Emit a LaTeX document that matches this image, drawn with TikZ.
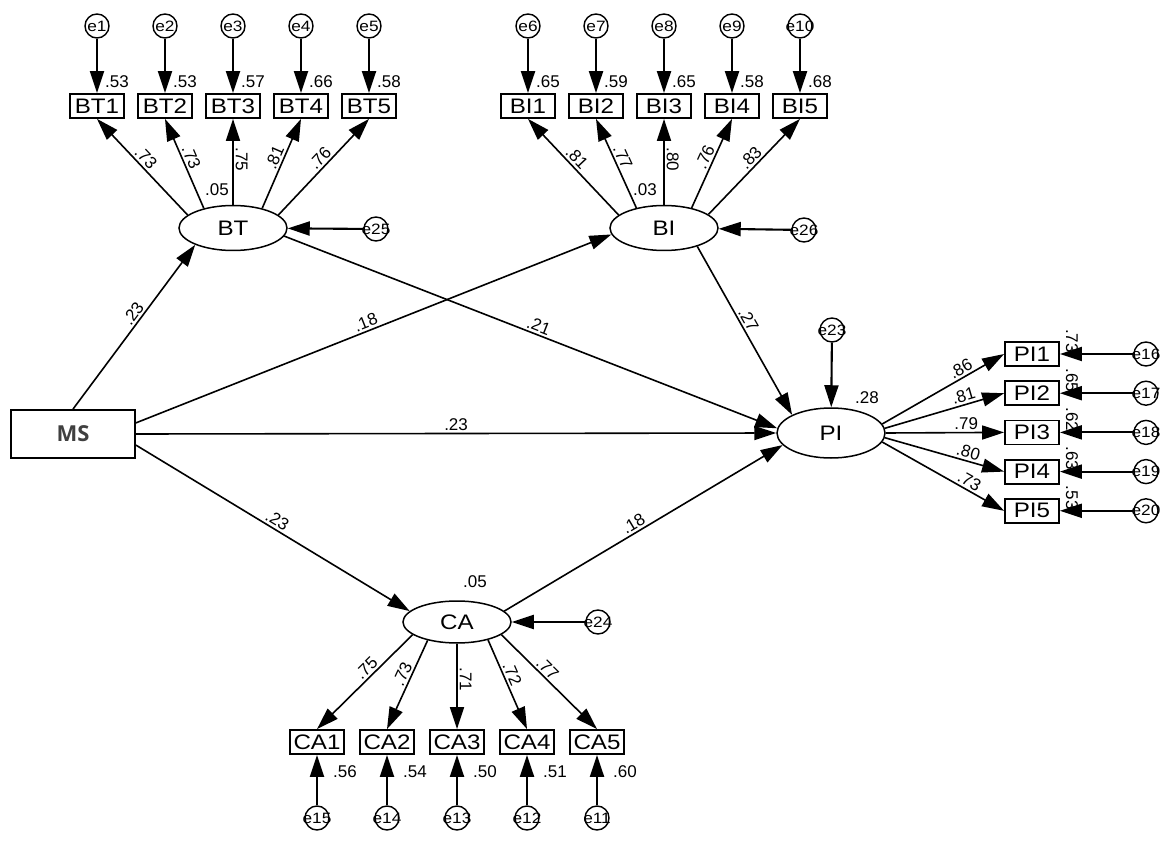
\documentclass[tikz,border=0pt]{standalone}
\usepackage{fontspec}
\setmainfont{Liberation Sans}
\newfontfamily\amos[FakeStretch=1.15]{Liberation Sans}
\newfontfamily\msfont{Open Sans}
\usetikzlibrary{arrows.meta,shapes.geometric}
\begin{document}
\begin{tikzpicture}[x=1pt, y=-1pt, >={Triangle[length=22pt, width=14pt]},
    obs/.style={draw, line width=1.8pt, minimum width=54pt, minimum height=24pt, inner sep=0pt, font=\amos\fontsize{21}{21}\selectfont},
    lat/.style={draw, ellipse, line width=1.5pt, minimum width=108pt, minimum height=45pt, inner sep=0pt, font=\amos\fontsize{21}{21}\selectfont},
    err/.style={draw, circle, line width=1.4pt, minimum size=24pt, inner sep=0pt},
    etxt/.style={font=\amos\fontsize{15}{15}\selectfont, inner sep=0pt},
    num/.style={font=\fontsize{17}{17}\selectfont, inner sep=2pt},
    lnk/.style={line width=1.6pt},
    elnk/.style={line width=2.1pt}]
\useasboundingbox (0,0) rectangle (1168,845);

\node[obs, minimum width=124pt, minimum height=48pt, text=black!75, font=\msfont\bfseries\fontsize{22}{22}\selectfont] (MS) at (73,434) {MS};
\node[lat] (BT) at (233,228) {BT};
\node[lat] (BI) at (664,228) {BI};
\node[lat, minimum height=50pt] (PI) at (831,433) {PI};
\node[lat, minimum height=42pt] (CA) at (457,622) {CA};

\foreach \i/\k/\ang/\wt/\rsq in {1/1/164/.73/.53, 2/2/146/.73/.53, 3/3/90/.75/.57, 4/4/34/.81/.66, 5/5/16/.76/.58}
{
    \node[obs] (BT\i) at ({97+68*(\i-1)},106) {BT\i};
    \node[err, label={[etxt]center:e\k}] (e\k) at ({97+68*(\i-1)},26) {};
    \draw[->, elnk] (e\k) -- (BT\i);
    \node[num] at ([shift={(20,-24)}]BT\i) {\rsq};
    \draw[<-, lnk] (BT\i.south) -- node[num, sloped, above, pos=.47]{\wt} (BT.\ang);
}

\foreach \i/\k/\ang/\wt/\rsq in {1/6/164/.81/.65, 2/7/144/.77/.59, 3/8/90/.80/.65, 4/9/36/.76/.58, 5/10/17/.83/.68}
{
    \node[obs] (BI\i) at ({528+68*(\i-1)},106) {BI\i};
    \node[err, label={[etxt]center:e\k}] (e\k) at ({528+68*(\i-1)},26) {};
    \draw[->, elnk] (e\k) -- (BI\i);
    \node[num] at ([shift={(20,-24)}]BI\i) {\rsq};
    \draw[<-, lnk] (BI\i.south) -- node[num, sloped, above, pos=.47]{\wt} (BI.\ang);
}

\foreach \i/\k/\ang/\wt/\rsq in {1/15/196/.75/.56, 2/14/212/.73/.54, 3/13/270/.71/.50, 4/12/330/.72/.51, 5/11/344/.77/.60}
{
    \node[obs] (CA\i) at ({317+70*(\i-1)},742) {CA\i};
    \node[err, label={[etxt]center:e\k}] (e\k) at ({317+70*(\i-1)},818) {};
    \draw[->, elnk] (e\k) -- (CA\i);
    \node[num] at ([shift={(28,30)}]CA\i) {\rsq};
    \draw[->, lnk] (CA.\ang) -- node[num, sloped, above, pos=.42]{\wt} (CA\i.north);
}

\foreach \i/\k/\ang/\wt/\rsq in {1/16/10/.86/.73, 2/17/5/.81/.65, 3/18/0/.79/.62, 4/19/355/.80/.63, 5/20/350/.73/.53}
{
    \node[obs] (PI\i) at (1032,{354+39.2*(\i-1)}) {PI\i};
    \node[err, label={[etxt]center:e\k}] (e\k) at (1146,{354+39.2*(\i-1)}) {};
    \draw[->, elnk] (e\k) -- (PI\i);
    \node[num, rotate=-90] at ([shift={(40,-13)}]PI\i) {\rsq};
    \draw[->, lnk] (PI.\ang) -- node[num, sloped, above, pos=.68]{\wt} (PI\i.west);
}

\node[err, label={[etxt]center:e25}] (e25) at (376,229) {};
\node[err, label={[etxt]center:e26}] (e26) at (804,230) {};
\node[err, label={[etxt]center:e23}] (e23) at (832,330) {};
\node[err, label={[etxt]center:e24}] (e24) at (598,622) {};
\draw[->, elnk] (e25) -- (BT);
\draw[->, elnk] (e26) -- (BI);
\draw[->, elnk] (e23) -- (PI);
\draw[->, elnk] (e24) -- (CA);

\node[num] at ([shift={(-16,-38)}]BT) {.05};
\node[num] at ([shift={(-19,-38)}]BI) {.03};
\node[num] at ([shift={(36,-35)}]PI) {.28};
\node[num] at ([shift={(18,-40)}]CA) {.05};

\draw[->, lnk] (MS.north) -- node[num, sloped, above, pos=.55]{.23} (BT.204);
\draw[->, lnk] (MS.10) -- node[num, sloped, above, pos=.49]{.18} (BI.187);
\draw[->, lnk] (MS.east) -- node[num, above, pos=.5]{.23} (PI.west);
\draw[->, lnk] (MS.350) -- node[num, sloped, above, pos=.5]{.23} (CA.167);
\draw[->, lnk] (BT.351) -- node[num, sloped, above, pos=.51]{.21} (PI.175);
\draw[->, lnk] (BI.331) -- node[num, sloped, above, pos=.46]{.27} (PI.155);
\draw[->, lnk] (CA.13) -- node[num, sloped, above, pos=.48]{.18} (PI.194);

\end{tikzpicture}
\end{document}
